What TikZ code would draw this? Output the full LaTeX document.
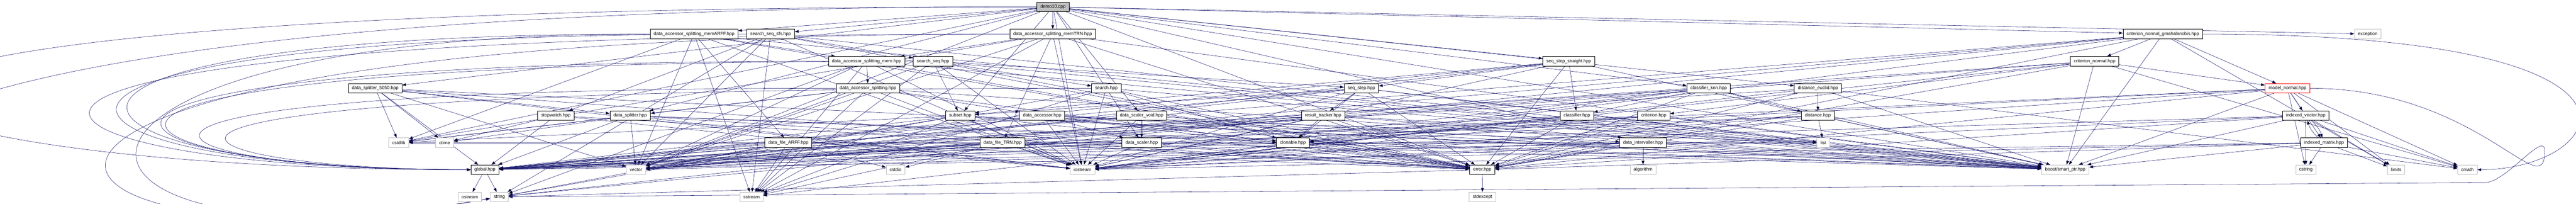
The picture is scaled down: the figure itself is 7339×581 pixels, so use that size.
\documentclass[tikz,border=0pt]{standalone}
\usepackage{fontspec}
\setmainfont{Liberation Sans}
\usetikzlibrary{arrows.meta}
\definecolor{edgeblue}{HTML}{191970}
\definecolor{boxgray}{HTML}{BFBFBF}
\pgfdeclarelayer{background}
\pgfsetlayers{background,main}
\tikzset{
  hdr/.style={draw=black, fill=white, line width=0.3pt, rectangle, minimum height=6.75pt,
              inner xsep=2.5pt, inner ysep=0pt, font=\fontsize{3.25}{4}\selectfont},
  sys/.style={hdr, draw=boxgray},
  rootfile/.style={hdr, fill=boxgray},
  flagged/.style={hdr, draw=red},
  dep/.style={draw=edgeblue, line width=0.2pt},
  aroundg/.style 2 args={out=180, in=180, out distance=#1, in distance=#2},
  arounds/.style 2 args={out=180, in=190, out distance=#1, in distance=#2},
  aroundr/.style 2 args={out=0, in=0, out distance=#1, in distance=#2}
}

\begin{document}
\begin{tikzpicture}[>={Triangle[length=2.75pt,width=2pt]}, x=0.25pt, y=-0.25pt]
\useasboundingbox (0,0) rectangle (7339,581);
% row 0
\node[rootfile] (demo10) at (3000,19.5) {demo10.cpp};
% row 1
\node[hdr] (memARFF)   at (1977.5,97) {data\_accessor\_splitting\_memARFF.hpp};
\node[hdr] (sfs)       at (2195.5,97) {search\_seq\_sfs.hpp};
\node[hdr] (memTRN)    at (2999,97)   {data\_accessor\_splitting\_memTRN.hpp};
\node[hdr] (gmaha)     at (6162,97)   {criterion\_normal\_gmahalanobis.hpp};
\node[sys] (exception) at (6745.5,97) {exception};
% row 2
\node[hdr] (mem)        at (2469,174.5)   {data\_accessor\_splitting\_mem.hpp};
\node[hdr] (seq)        at (2658,174.5)   {search\_seq.hpp};
\node[hdr] (straight)   at (4469.5,174.5) {seq\_step\_straight.hpp};
\node[hdr] (critnormal) at (5967.5,174.5) {criterion\_normal.hpp};
% row 3
\node[hdr]     (split5050) at (1069,251.5)   {data\_splitter\_5050.hpp};
\node[hdr]     (dasplit)   at (2473,251.5)   {data\_accessor\_splitting.hpp};
\node[hdr]     (search)    at (3152,251.5)   {search.hpp};
\node[hdr]     (seqstep)   at (3878.5,251.5) {seq\_step.hpp};
\node[hdr]     (knn)       at (4868,251.5)   {classifier\_knn.hpp};
\node[hdr]     (euclid)    at (5179.5,251.5) {distance\_euclid.hpp};
\node[flagged] (model)     at (6517,251.5)   {model\_normal.hpp};
% row 4
\node[hdr] (stopwatch)  at (1583.5,329.5) {stopwatch.hpp};
\node[hdr] (splitter)   at (1795.5,329.5) {data\_splitter.hpp};
\node[hdr] (subset)     at (2735.5,329.5) {subset.hpp};
\node[hdr] (accessor)   at (2969,329.5)   {data\_accessor.hpp};
\node[hdr] (scalervoid) at (3252.5,329.5) {data\_scaler\_void.hpp};
\node[hdr] (tracker)    at (3769.5,329.5) {result\_tracker.hpp};
\node[hdr] (classifier) at (4492.5,329.5) {classifier.hpp};
\node[hdr] (criterion)  at (4711.5,329.5) {criterion.hpp};
\node[hdr] (distance)   at (5179,329.5)   {distance.hpp};
\node[hdr] (ivector)    at (6569,329.5)   {indexed\_vector.hpp};
% row 5
\node[sys] (cstdlib)     at (1136,406.5)   {cstdlib};
\node[sys] (ctime)       at (1266.5,406.5) {ctime};
\node[hdr] (arff)        at (2246,406.5)   {data\_file\_ARFF.hpp};
\node[hdr] (trn)         at (2856.5,406.5) {data\_file\_TRN.hpp};
\node[hdr] (scaler)      at (3252.5,406.5) {data\_scaler.hpp};
\node[hdr] (clonable)    at (3683.5,406.5) {clonable.hpp};
\node[hdr] (intervaller) at (4681,406.5)   {data\_intervaller.hpp};
\node[sys] (list)        at (5194.5,406.5) {list};
\node[hdr] (imatrix)     at (6621,406.5)   {indexed\_matrix.hpp};
% row 6
\node[hdr] (global)    at (1381.5,483.5) {global.hpp};
\node[sys] (vector)    at (1812,483.5)   {vector};
\node[sys] (cstdio)    at (2551.5,483.5) {cstdio};
\node[sys] (iostream)  at (3084,483.5)   {iostream};
\node[hdr] (error)     at (4223,483.5)   {error.hpp};
\node[sys] (algorithm) at (4681,483.5)   {algorithm};
\node[sys] (boost)     at (5884,483.5)   {boost/smart\_ptr.hpp};
\node[sys] (cstring)   at (6569.5,483.5) {cstring};
\node[sys] (limits)    at (6826.5,483.5) {limits};
\node[sys] (cmath)     at (7029.5,483.5) {cmath};
% row 7
\node[sys] (ostream)   at (1338.5,561) {ostream};
\node[sys] (string)    at (1422.5,561) {string};
\node[sys] (sstream)   at (2141,561)   {sstream};
\node[sys] (stdexcept) at (4223.5,561) {stdexcept};
\coordinate (rturn) at (7250,430);
\coordinate (rbottom) at (7080,520);

\begin{pgfonlayer}{background}
\draw[dep,->]
  (demo10) edge[arounds={1150pt}{540pt}] (string) edge[aroundg={1110pt}{490pt}] (global)
           edge (boost) edge (exception) edge (iostream) edge (cstdlib) edge (vector)
           edge (error) edge (subset) edge (intervaller) edge (splitter) edge (split5050)
           edge (scaler) edge (scalervoid) edge (memTRN) edge (memARFF) edge (gmaha)
           edge (knn) edge (euclid) edge (straight) edge (sfs)
  (memARFF) edge[aroundg={495pt}{325pt}] (global) edge[arounds={489pt}{338pt}] (string)
            edge (mem) edge (arff) edge (boost) edge (iostream) edge (sstream)
            edge (vector) edge (error) edge (cstdlib)
  (sfs) edge[aroundg={595pt}{334pt}] (global)
        edge (seq) edge (stopwatch) edge (boost) edge (error) edge (iostream)
        edge (vector) edge (sstream) edge (string)
  (memTRN) edge[aroundg={866pt}{355pt}] (global) edge[arounds={854pt}{362pt}] (string)
           edge (mem) edge (trn) edge (boost) edge (iostream) edge (sstream)
           edge (vector) edge (cstdlib) edge (error)
  (gmaha) edge[aroundr={352pt}{92pt}] (cmath)
          edge (critnormal) edge (model) edge (boost) edge (iostream) edge (error)
          edge (global) edge (vector) edge (limits) edge (string)
  (critnormal) edge (criterion) edge (model) edge (boost) edge (iostream)
               edge (error) edge (global) edge (vector) edge (cmath)
  (mem) edge[aroundg={629pt}{290pt}] (global)
        edge (dasplit) edge (boost) edge (iostream) edge (vector) edge (error)
        edge (sstream) edge (string)
  (seq) edge[aroundg={703pt}{284pt}] (global)
        edge (search) edge (seqstep) edge (subset) edge (boost) edge (error)
        edge (vector) edge (iostream) edge (sstream)
  (straight) edge (seqstep) edge (classifier) edge (boost) edge (error)
             edge (global) edge (iostream) edge (vector) edge (subset)
  (split5050) edge (splitter) edge (cstdlib) edge (ctime) edge (global)
              edge (vector) edge (boost) edge (iostream) edge (error)
  (dasplit) edge[aroundg={599pt}{253pt}] (global)
            edge (accessor) edge (splitter) edge (boost) edge (iostream)
            edge (vector) edge (error) edge (sstream) edge (cstdlib)
  (search) edge[aroundg={810pt}{222pt}] (global)
           edge (subset) edge (error) edge (iostream) edge (boost)
           edge (clonable) edge (sstream)
  (seqstep) edge (tracker) edge (error) edge (clonable) edge (boost) edge (iostream)
            edge (global) edge (subset) edge (vector) edge (list)
  (knn) edge (classifier) edge (distance) edge (boost) edge (iostream)
        edge (error) edge (global) edge (vector) edge (sstream)
  (euclid) edge (distance) edge (boost) edge (iostream) edge (error)
           edge (global) edge (cmath)
  (model) edge (ivector) edge (imatrix) edge (boost) edge (cmath) edge (limits)
          edge (cstring) edge (iostream) edge (error) edge (global) edge (vector)
  (stopwatch) edge (ctime) edge (iostream) edge (global) edge (error)
  (splitter) edge (vector) edge (boost) edge (iostream) edge (error)
             edge (global) edge (clonable) edge (cstdlib) edge (ctime)
  (subset) edge (boost) edge (vector) edge (iostream) edge (sstream)
           edge (error) edge (global) edge (cstdlib) edge (string)
  (accessor) edge (intervaller) edge (scaler) edge (clonable) edge (boost)
             edge (iostream) edge (error) edge (global) edge (vector) edge (list)
  (scalervoid) edge (scaler) edge (iostream) edge (boost) edge (error) edge (global)
  (tracker) edge (clonable) edge (error) edge (boost) edge (iostream)
            edge (global) edge (list) edge (vector)
  (classifier) edge (clonable) edge (error) edge (global) edge (boost) edge (iostream)
  (criterion) edge (clonable) edge (error) edge (global) edge (boost) edge (iostream)
  (distance) edge (list) edge (boost) edge (error) edge (global)
             edge (clonable) edge (iostream)
  (ivector) edge[bend left=15] (imatrix)
            edge (cstring) edge (cmath) edge (limits) edge (boost)
            edge (iostream) edge (error) edge (global)
  (imatrix) edge[bend left=15] (ivector)
            edge (cstring) edge (cmath) edge (limits) edge (boost)
            edge (iostream) edge (error) edge (global)
  (trn) edge (cstdio) edge (iostream) edge (sstream) edge (error)
        edge (global) edge (string) edge (vector) edge (cstdlib)
  (arff) edge (cstdio) edge (iostream) edge (sstream) edge (error)
         edge (global) edge (string) edge (vector) edge (cstdlib) edge (list)
  (scaler) edge (clonable) edge (iostream) edge (boost) edge (error) edge (global)
  (clonable) edge (error) edge (global) edge (boost)
  (intervaller) edge (algorithm) edge (boost) edge (iostream) edge (error)
                edge (global) edge (vector)
  (global) edge (ostream) edge (string)
  (error) edge (stdexcept) edge (string);
% long way round on the right
\draw[dep,->] (model) to[out=0, in=270, out distance=120pt, in distance=40pt] (rturn)
  to[out=90, in=0, out distance=15pt, in distance=15pt] (rbottom) -- (string);
\end{pgfonlayer}
\end{tikzpicture}
\end{document}
